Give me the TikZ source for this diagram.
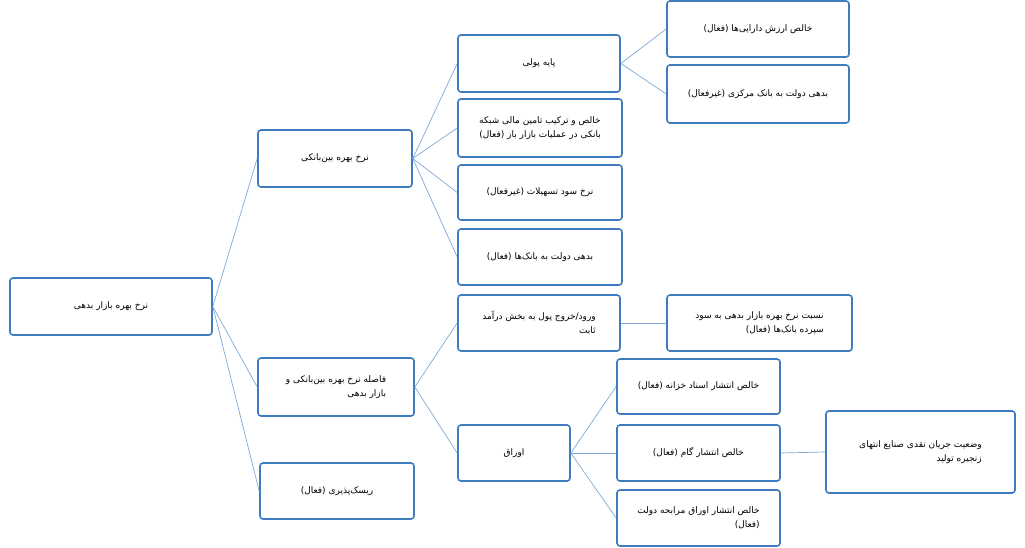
\documentclass[tikz,border=0pt]{standalone}
\usepackage{fontspec}
\newfontfamily\farsi[Script=Arabic]{DejaVu Sans}
\TeXXeTstate=1
\newcommand{\fa}[1]{\beginR #1\endR}
\begin{document}
\begin{tikzpicture}[x=1pt,y=-1pt,
  bx/.style={draw=boxblue,line width=1.6pt,rounded corners=3pt,fill=white,inner sep=0pt,font=\farsi\fontsize{9}{14}\selectfont,align=right},
  ln/.style={draw=lineblue,line width=0.7pt}]
\definecolor{boxblue}{HTML}{3D7CC0}
\definecolor{lineblue}{HTML}{7FA8D6}
\useasboundingbox (0,0) rectangle (1025,548);
\newcommand{\bxn}[6]{\node[bx,minimum width=#4-#2,minimum height=#5-#3] (#1) at ({(#2+#4)/2},{(#3+#5)/2}) {#6};}
\bxn{A}{10}{278}{212}{335}{\fa{نرخ بهره بازار بدهی}}
\bxn{B1}{258}{130}{412}{187}{\fa{نرخ بهره بین‌بانکی}}
\bxn{B2}{258}{358}{414}{416}{\fa{فاصله نرخ بهره بین‌بانکی و}\\\fa{بازار بدهی}}
\bxn{B3}{260}{463}{414}{519}{\fa{ریسک‌پذیری (فعال)}}
\bxn{C1}{458}{35}{620}{92}{\fa{پایه پولی}}
\bxn{C2}{458}{99}{622}{157}{\fa{خالص و ترکیب تامین مالی شبکه}\\\fa{بانکی در عملیات بازار باز (فعال)}}
\bxn{C3}{458}{165}{622}{220}{\fa{نرخ سود تسهیلات (غیرفعال)}}
\bxn{C4}{458}{229}{622}{285}{\fa{بدهی دولت به بانک‌ها (فعال)}}
\bxn{C5}{458}{295}{620}{351}{\fa{ورود/خروج پول به بخش درآمد}\\\fa{ثابت}}
\bxn{C6}{458}{425}{570}{481}{\fa{اوراق}}
\bxn{D1}{667}{1}{849}{57}{\fa{خالص ارزش دارایی‌ها (فعال)}}
\bxn{D2}{667}{65}{849}{123}{\fa{بدهی دولت به بانک مرکزی (غیرفعال)}}
\bxn{D3}{667}{295}{852}{351}{\fa{نسبت نرخ بهره بازار بدهی به سود}\\\fa{سپرده بانک‌ها (فعال)}}
\bxn{D4}{617}{359}{780}{414}{\fa{خالص انتشار اسناد خزانه (فعال)}}
\bxn{D5}{617}{425}{780}{481}{\fa{خالص انتشار گام (فعال)}}
\bxn{D6}{617}{490}{780}{546}{\fa{خالص انتشار اوراق مرابحه دولت}\\\fa{(فعال)}}
\bxn{E}{826}{411}{1015}{493}{\fa{وضعیت جریان نقدی صنایع انتهای}\\\fa{زنجیره تولید}}
\begin{scope}[on background layer/.style={}]
\foreach \p/\c in {A/B1,A/B2,A/B3,B1/C1,B1/C2,B1/C3,B1/C4,B2/C5,B2/C6,C1/D1,C1/D2,C5/D3,C6/D4,C6/D5,C6/D6,D5/E}
  \draw[ln] (\p.east) -- (\c.west);
\end{scope}
\end{tikzpicture}
\end{document}
